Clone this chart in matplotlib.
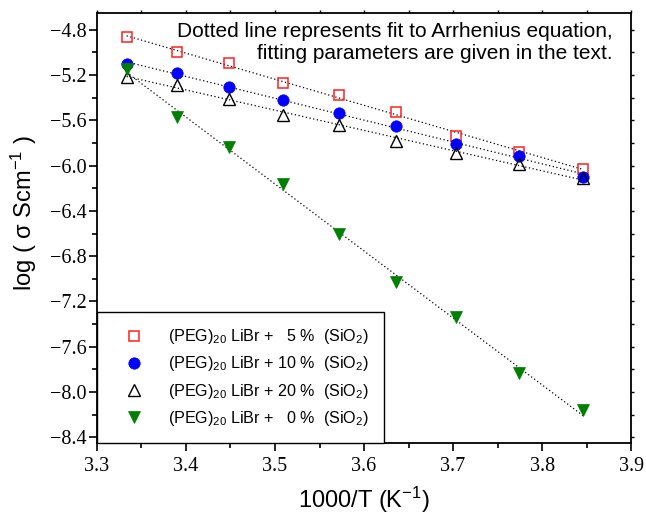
import numpy as np
import matplotlib
matplotlib.use("Agg")
import matplotlib.pyplot as plt
from matplotlib.ticker import MultipleLocator

plt.rcParams["mathtext.fontset"] = "custom"
plt.rcParams["mathtext.rm"] = "Liberation Sans"
plt.rcParams["mathtext.it"] = "Liberation Sans:italic"
plt.rcParams["mathtext.bf"] = "Liberation Sans:bold"

# Temperatures (K) and reciprocal temperature axis
temperature = [300, 295, 290, 285, 280, 275, 270, 265, 260]
inv_t = [1000.0 / t for t in temperature]

# log conductivity for each SiO2 loading
sio2_5 = [-4.862, -4.997, -5.095, -5.272, -5.375, -5.525, -5.734, -5.876, -6.032]
sio2_10 = [-5.105, -5.177, -5.307, -5.422, -5.537, -5.649, -5.808, -5.914, -6.097]
sio2_20 = [-5.213, -5.286, -5.410, -5.552, -5.637, -5.779, -5.885, -5.985, -6.112]
sio2_0 = [-5.145, -5.566, -5.832, -6.163, -6.605, -7.028, -7.335, -7.835, -8.160]

labels = [
    "(PEG)$_{20}$ LiBr +   5 %  (SiO$_2$)",
    "(PEG)$_{20}$ LiBr + 10 %  (SiO$_2$)",
    "(PEG)$_{20}$ LiBr + 20 %  (SiO$_2$)",
    "(PEG)$_{20}$ LiBr +   0 %  (SiO$_2$)",
]

styles = [
    dict(marker="s", ms=7.4, mfc="none", mec="#ff2020", mew=1.1),
    dict(marker="o", ms=8.2, mfc="#0000ff", mec="#0000ff", mew=0.5),
    dict(marker="^", ms=8.8, mfc="none", mec="black", mew=1.0),
    dict(marker="v", ms=9.2, mfc="#008000", mec="#008000", mew=0.5),
]

series = [sio2_5, sio2_10, sio2_20, sio2_0]

fig = plt.figure(figsize=(6.46, 5.15), dpi=100)
ax = fig.add_axes([0.150, 0.140, 0.827, 0.835])

x = np.array(inv_t)
handles = []
for y, st, lab in zip(series, styles, labels):
    # Arrhenius fit: linear in log(sigma) vs 1000/T
    slope, icpt = np.polyfit(x, np.array(y), 1)
    xf = np.array([x[0], x[-1]])
    ax.plot(xf, slope * xf + icpt, linestyle=(0, (1, 2)), color="black",
            lw=0.9, zorder=2)
    h, = ax.plot(x, y, linestyle="none", zorder=3, label=lab, **st)
    handles.append(h)

ax.set_xlim(3.3, 3.9)
ax.set_ylim(-8.45, -4.65)
ax.xaxis.set_major_locator(MultipleLocator(0.1))
ax.xaxis.set_minor_locator(MultipleLocator(0.05))
ax.yaxis.set_major_locator(MultipleLocator(0.4))
ax.yaxis.set_minor_locator(MultipleLocator(0.2))

for s in ax.spines.values():
    s.set_linewidth(1.3)

ax.tick_params(which="major", direction="out", length=5.5, width=1.2,
               labelsize=14.5)
ax.tick_params(axis="x", which="major", pad=5)
ax.tick_params(axis="y", which="major", pad=2)
ax.tick_params(which="minor", direction="out", length=3.5, width=1.2)
for lbl in ax.get_xticklabels() + ax.get_yticklabels():
    lbl.set_fontfamily("Liberation Serif")

# short ticks on the top and right frame
top = ax.secondary_xaxis("top")
top.xaxis.set_major_locator(MultipleLocator(0.1))
top.xaxis.set_minor_locator(MultipleLocator(0.05))
top.tick_params(which="both", direction="out", length=2, width=1.0,
                labeltop=False)
right = ax.secondary_yaxis("right")
right.yaxis.set_major_locator(MultipleLocator(0.4))
right.yaxis.set_minor_locator(MultipleLocator(0.2))
right.tick_params(which="both", direction="out", length=2, width=1.0,
                  labelright=False)
for s in list(top.spines.values()) + list(right.spines.values()):
    s.set_visible(False)

ax.set_xlabel("1000/T (K$^{-1}$)", fontsize=17, family="Liberation Sans")
ax.xaxis.set_label_coords(0.5, -0.098)
ax.set_ylabel("log ( \u03c3 Scm$^{-1}$ )", fontsize=17,
              family="Liberation Sans")
ax.yaxis.set_label_coords(-0.108, 0.535)

ax.text(0.966, 0.978,
        "Dotted line represents fit to Arrhenius equation,\n"
        "fitting parameters are given in the text.",
        transform=ax.transAxes, ha="right", va="top", ma="right",
        fontsize=15, family="Liberation Sans", linespacing=1.2)

leg = ax.legend(handles=handles, loc="lower left", bbox_to_anchor=(0, 0),
                borderaxespad=0, fancybox=False, framealpha=1,
                edgecolor="black", prop={"family": "Liberation Sans", "size": 11.6},
                borderpad=0.95, handlelength=2.7, handletextpad=0.75,
                labelspacing=0.5, numpoints=1)
leg.get_frame().set_linewidth(1.0)

fig.savefig("out.png", dpi=100)
